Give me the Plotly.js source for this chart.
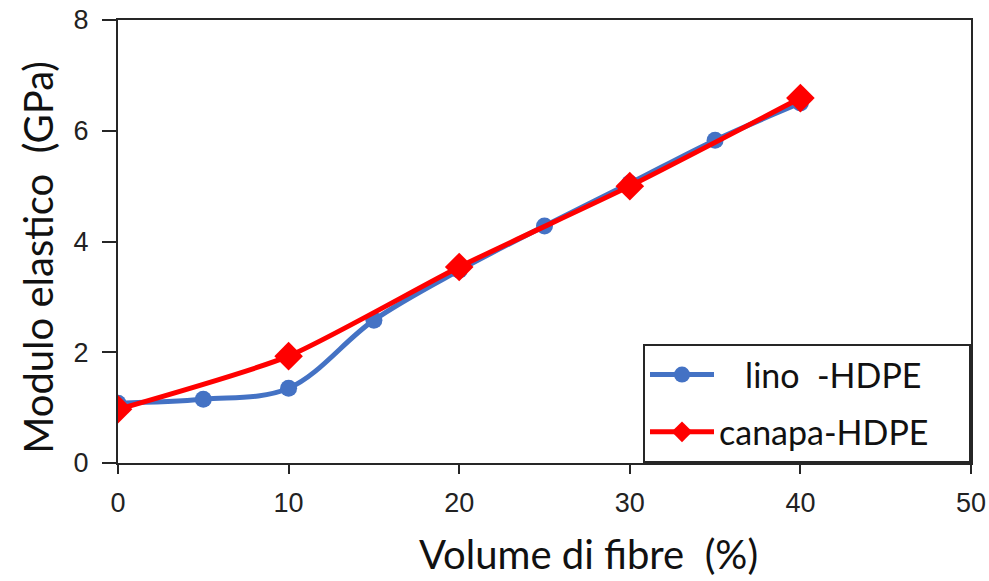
<!DOCTYPE html>
<html>
<head>
<meta charset="utf-8">
<script src="https://cdn.plot.ly/plotly-3.0.1.min.js"></script>
<style>
  html, body { margin: 0; padding: 0; background: #ffffff; }
  #chart { width: 989px; height: 581px; }
</style>
</head>
<body>
<div id="chart"></div>
<script>
// Fibre volume fraction (%) and elastic modulus (GPa) of the two composites
const linoVolume = [0, 5, 10, 15, 20, 25, 30, 35, 40];
const linoModulus = [1.08, 1.15, 1.35, 2.58, 3.48, 4.28, 5.05, 5.83, 6.50];

const canapaVolume = [0, 10, 20, 30, 40];
const canapaModulus = [0.97, 1.93, 3.54, 5.00, 6.59];

const seriesNames = ['\u00a0\u00a0\u00a0lino\u00a0\u00a0-HDPE', 'canapa-HDPE\u00a0\u00a0\u00a0\u00a0'];
const xTicks = [0, 10, 20, 30, 40, 50];
const yTicks = [0, 2, 4, 6, 8];
const xTitle = 'Volume di fibre\u00a0\u00a0(%)';
const yTitle = 'Modulo elastico\u00a0\u00a0(GPa)';

const axisColor = '#262626';
const titleFont = { family: 'Lato, "Open Sans", sans-serif', size: 40, color: '#111111' };
const tickFont = { family: '"Liberation Sans", Arial, sans-serif', size: 27, color: '#222222' };

const traces = [
  {
    x: linoVolume, y: linoModulus, name: seriesNames[0],
    type: 'scatter', mode: 'lines+markers',
    line: { color: '#4472C4', width: 5, shape: 'spline', smoothing: 1 },
    marker: { color: '#4472C4', symbol: 'circle', size: 17 },
    legendgroup: 'a'
  },
  {
    x: canapaVolume, y: canapaModulus, name: seriesNames[1],
    type: 'scatter', mode: 'lines+markers',
    line: { color: '#FF0000', width: 5, shape: 'spline', smoothing: 0.6 },
    marker: { color: '#FF0000', symbol: 'diamond', size: 22 },
    legendgroup: 'b'
  }
];

const layout = {
  width: 989, height: 581,
  margin: { l: 118, r: 18, t: 20, b: 118 },
  paper_bgcolor: '#ffffff', plot_bgcolor: '#ffffff',
  showlegend: true,
  legend: {
    x: 1, xanchor: 'right', y: 0, yanchor: 'bottom',
    bgcolor: '#ffffff', bordercolor: axisColor, borderwidth: 2,
    font: { family: 'Lato, "Open Sans", sans-serif', size: 34, color: '#111111' },
    traceorder: 'grouped', tracegroupgap: 10, itemwidth: 64
  },
  xaxis: {
    range: [0, 50], tickvals: xTicks, ticktext: xTicks.map(String),
    showgrid: false, zeroline: false,
    showline: true, linecolor: axisColor, linewidth: 2, mirror: true,
    ticks: 'outside', ticklen: 9, tickwidth: 2, tickcolor: axisColor,
    tickfont: tickFont, ticklabelstandoff: 6
  },
  yaxis: {
    range: [0, 8], tickvals: yTicks, ticktext: yTicks.map(String),
    showgrid: false, zeroline: false,
    showline: true, linecolor: axisColor, linewidth: 2, mirror: true,
    ticks: 'outside', ticklen: 14, tickwidth: 2, tickcolor: axisColor,
    tickfont: tickFont, ticklabelstandoff: 8
  },
  annotations: [
    {
      text: xTitle, font: titleFont, showarrow: false,
      xref: 'paper', yref: 'paper', x: 0.552, y: -0.205,
      xanchor: 'center', yanchor: 'middle'
    },
    {
      text: yTitle, font: titleFont, showarrow: false, textangle: -90,
      xref: 'paper', yref: 'paper', x: -0.094, y: 0.465,
      xanchor: 'center', yanchor: 'middle'
    }
  ]
};

Plotly.newPlot('chart', traces, layout, { displayModeBar: false, staticPlot: true });
</script>
</body>
</html>
